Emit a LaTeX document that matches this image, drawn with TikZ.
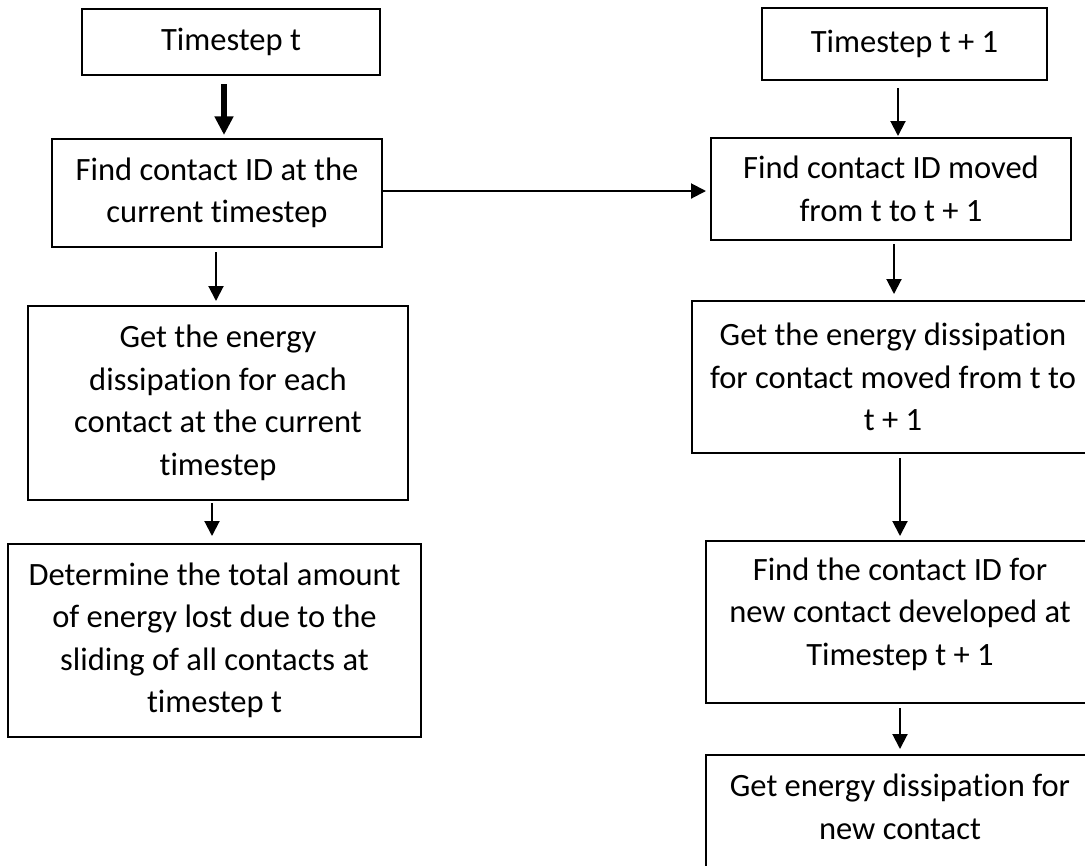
\documentclass[tikz,border=0pt]{standalone}
\usepackage{fontspec}
\setmainfont{Carlito}[Ligatures=NoCommon, RawFeature=-liga]
\usetikzlibrary{arrows.meta}
\newcommand\flowfont{\fontsize{24.4}{31.9}\selectfont}
\begin{document}
\begin{tikzpicture}[x=0.75pt,y=-0.75pt,
  box/.style={draw, line width=1.5pt, align=center, inner sep=0pt, font=\flowfont},
  txt/.style={align=center, inner sep=0pt, font=\flowfont},
  sz/.style 2 args={minimum width=#1*0.75pt, minimum height=#2*0.75pt},
  arr/.style={line width=1.5pt, -{Triangle[width=11.25pt,length=11.25pt]}},
  thickarr/.style={line width=4.5pt, -{Triangle[width=13.5pt,length=14pt]}}]
\useasboundingbox (0,0) rectangle (1085,865);
\fill[white] (0,0) rectangle (1085,865);
\clip (0,0) rectangle (1085,865);

% left column
\node[box, sz={298}{66}]  (b1) at (231,42)    {Timestep t};
\node[box, sz={330}{108}] (b2) at (217,193)   {Find contact ID at the\\current timestep};
\node[box, sz={380}{194}] (b3) at (218,403)   {Get the energy\\dissipation for each\\contact at the current\\timestep};
\node[box, sz={413}{193}] (b4) at (214.5,640.5) {Determine the total amount\\of energy lost due to the\\sliding of all contacts at\\timestep t};

% right column
\node[box, sz={285}{72}]  (r1) at (904.5,44)  {Timestep t + 1};
\node[box, sz={360}{102}] (r2) at (891,189)   {Find contact ID moved\\from t to t + 1};
\node[box, sz={402}{152}] (r3) at (893,377)   {Get the energy dissipation\\for contact moved from t to\\t + 1};
\node[box, sz={388}{162}] (r4) at (900,622)   {};
\node[txt] (r4t) at (900,614) {Find the contact ID for\\new contact developed at\\Timestep t + 1};
\node[box, sz={388}{150}] (r5) at (900,830)   {};
\node[txt] (r5t) at (900,807) {Get energy dissipation for\\new contact};

% connector columns
\coordinate (c1) at (224,0);
\coordinate (c2) at (898,0);
\coordinate (c3) at (216,0);
\coordinate (c4) at (212,0);
\coordinate (c5) at (894,0);
\coordinate (c6) at (900,0);
\coordinate (h)  at (0,191);

\draw[thickarr, shorten <=6pt, shorten >=2.25pt] (b1.south -| c1) -- (b2.north -| c1);
\draw[arr, shorten <=3pt, shorten >=3pt]       (b2.south -| c3) -- (b3.north -| c3);
\draw[arr, shorten <=1.5pt, shorten >=5.25pt]  (b3.south -| c4) -- (b4.north -| c4);

\draw[arr, shorten <=5.25pt, shorten >=0.75pt] (r1.south -| c2) -- (r2.north -| c2);
\draw[arr, shorten <=2.25pt, shorten >=4.5pt]  (r2.south -| c5) -- (r3.north -| c5);
\draw[arr, shorten <=3pt, shorten >=3pt]       (r3.south -| c6) -- (r4.north -| c6);
\draw[arr, shorten <=3pt, shorten >=3.75pt]    (r4.south -| c6) -- (r5.north -| c6);

\draw[arr, shorten >=3pt] (b2.east |- h) -- (r2.west |- h);
\end{tikzpicture}
\end{document}
